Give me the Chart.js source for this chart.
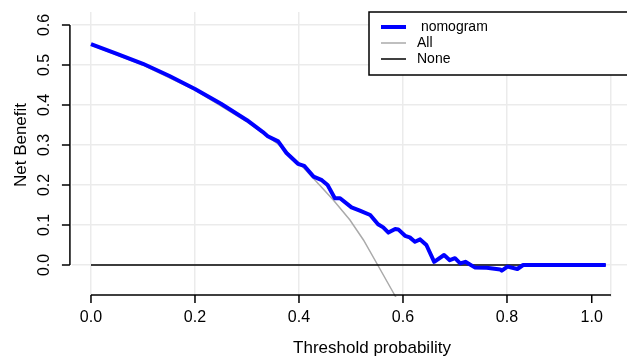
<!DOCTYPE html>
<html>
<head>
<meta charset="utf-8">
<script src="https://cdn.jsdelivr.net/npm/chart.js@4.4.0/dist/chart.umd.min.js"></script>
<style>
    html, body { margin: 0; padding: 0; background: #fff; }
    canvas { display: block; }
</style>
</head>
<body>
<canvas id="dcaChart" width="627" height="358"></canvas>
<script>
// decision curve, values
const nomogramX = [0.00, 0.05, 0.10, 0.15, 0.20, 0.25, 0.30, 0.33, 0.34, 0.36, 0.376, 0.398, 0.41, 0.428, 0.444, 0.455,
    0.469, 0.479, 0.501, 0.517, 0.537, 0.552, 0.562, 0.572, 0.585, 0.591, 0.604, 0.613, 0.623, 0.633, 0.645,
    0.660, 0.679, 0.690, 0.700, 0.710, 0.720, 0.738, 0.761, 0.787, 0.790, 0.801, 0.820, 0.831, 0.99];
const nomogramY = [0.552, 0.528, 0.503, 0.473, 0.440, 0.403, 0.362, 0.333, 0.322, 0.309, 0.280, 0.253, 0.248, 0.221, 0.212, 0.200,
    0.167, 0.167, 0.144, 0.136, 0.125, 0.102, 0.094, 0.081, 0.090, 0.089, 0.073, 0.069, 0.058, 0.064, 0.050,
    0.008, 0.025, 0.012, 0.017, 0.004, 0.008, -0.006, -0.007, -0.011, -0.014, -0.004, -0.010, 0.000, 0.000];

const allX = [0.00, 0.10, 0.20, 0.30, 0.36, 0.40, 0.4275, 0.466, 0.498, 0.524, 0.5525, 0.585, 0.595];
const allY = [0.550, 0.500, 0.437, 0.358, 0.302, 0.255, 0.217, 0.1625, 0.1125, 0.0625, -0.0025, -0.0775, -0.100];

const noneX = [0.00, 0.99];
const noneY = [0.00, 0.00];

const xGrid = [0, 0.2, 0.4, 0.6, 0.8, 1.0];
const yGrid = [0, 0.1, 0.2, 0.3, 0.4, 0.5, 0.6];
const xTickValues = [0, 0.2, 0.4, 0.6, 0.8, 0.963];
const xTickLabels = ['0.0', '0.2', '0.4', '0.6', '0.8', '1.0'];
const yTickValues = [0, 0.1, 0.2, 0.3, 0.4, 0.5, 0.6];
const yTickLabels = ['0.0', '0.1', '0.2', '0.3', '0.4', '0.5', '0.6'];

const legendLabels = [' nomogram', 'All', 'None'];
const lineColors = ['#0000ff', '#aaaaaa', '#000000'];

function toPoints(xs, ys) {
    return xs.map((x, i) => ({ x: x, y: ys[i] }));
}

// R style axes + legend box, drawn with the chart's own scales
const baseAxes = {
    id: 'baseAxes',
    afterDraw(chart) {
        const ctx = chart.ctx;
        const xs = chart.scales.x;
        const ys = chart.scales.y;
        ctx.save();
        ctx.strokeStyle = '#000';
        ctx.fillStyle = '#000';
        ctx.lineWidth = 1.5;
        ctx.font = '16px "Liberation Sans", Arial, sans-serif';

        // x axis
        const axY = ys.getPixelForValue(-0.075);
        ctx.beginPath();
        ctx.moveTo(xs.getPixelForValue(0), axY);
        ctx.lineTo(xs.getPixelForValue(1.0), axY);
        xTickValues.forEach(v => {
            const px = xs.getPixelForValue(v);
            ctx.moveTo(px, axY);
            ctx.lineTo(px, axY + 8);
        });
        ctx.stroke();
        ctx.textAlign = 'center';
        ctx.textBaseline = 'middle';
        xTickValues.forEach((v, i) => {
            ctx.fillText(xTickLabels[i], xs.getPixelForValue(v), 318);
        });

        // y axis
        const axX = xs.getPixelForValue(-0.0405);
        ctx.beginPath();
        ctx.moveTo(axX, ys.getPixelForValue(0));
        ctx.lineTo(axX, ys.getPixelForValue(0.6));
        yTickValues.forEach(v => {
            const py = ys.getPixelForValue(v);
            ctx.moveTo(axX, py);
            ctx.lineTo(axX - 8, py);
        });
        ctx.stroke();
        yTickValues.forEach((v, i) => {
            ctx.save();
            ctx.translate(45, ys.getPixelForValue(v));
            ctx.rotate(-Math.PI / 2);
            ctx.fillText(yTickLabels[i], 0, 0);
            ctx.restore();
        });

        // titles
        ctx.font = '17px "Liberation Sans", Arial, sans-serif';
        ctx.fillText('Threshold probability', 372, 348);
        ctx.save();
        ctx.translate(21, ys.getPixelForValue(0.3));
        ctx.rotate(-Math.PI / 2);
        ctx.fillText('Net Benefit', 0, 0);
        ctx.restore();

        // legend
        ctx.fillStyle = '#fff';
        ctx.fillRect(369, 12, 270, 63);
        ctx.strokeStyle = '#000';
        ctx.lineWidth = 1.5;
        ctx.strokeRect(369, 12, 270, 63);
        ctx.font = '14px "Liberation Sans", Arial, sans-serif';
        ctx.textAlign = 'left';
        const rowY = [27, 43, 59];
        const widths = [4, 1.5, 1.5];
        legendLabels.forEach((label, i) => {
            ctx.strokeStyle = lineColors[i];
            ctx.lineWidth = widths[i];
            ctx.beginPath();
            ctx.moveTo(381, rowY[i]);
            ctx.lineTo(406, rowY[i]);
            ctx.stroke();
            ctx.fillStyle = '#000';
            ctx.fillText(label, 417, rowY[i]);
        });
        ctx.restore();
    }
};

const ctxDca = document.getElementById('dcaChart').getContext('2d');

const dcaChart = new Chart(ctxDca, {
    type: 'line',
    data: {
        datasets: [{
            label: 'nomogram',
            data: toPoints(nomogramX, nomogramY),
            borderColor: lineColors[0],
            borderWidth: 4,
            borderJoinStyle: 'round',
            pointRadius: 0,
            fill: false
        }, {
            label: 'None',
            data: toPoints(noneX, noneY),
            borderColor: lineColors[2],
            borderWidth: 1.5,
            pointRadius: 0,
            fill: false
        }, {
            label: 'All',
            data: toPoints(allX, allY),
            borderColor: lineColors[1],
            borderWidth: 1.5,
            pointRadius: 0,
            fill: false
        }]
    },
    options: {
        responsive: false,
        animation: false,
        devicePixelRatio: 1,
        layout: {
            padding: { left: 72, top: 12, right: 0, bottom: 61 }
        },
        plugins: {
            legend: { display: false },
            tooltip: { enabled: false }
        },
        scales: {
            x: {
                type: 'linear',
                min: -0.0365,
                max: 1.0308,
                afterBuildTicks: scale => { scale.ticks = xGrid.map(v => ({ value: v })); },
                grid: { color: '#ebebeb', lineWidth: 1.5, drawTicks: false },
                border: { display: false },
                ticks: { display: false }
            },
            y: {
                type: 'linear',
                min: -0.08,
                max: 0.6325,
                afterBuildTicks: scale => { scale.ticks = yGrid.map(v => ({ value: v })); },
                grid: { color: '#ebebeb', lineWidth: 1.5, drawTicks: false },
                border: { display: false },
                ticks: { display: false }
            }
        }
    },
    plugins: [baseAxes]
});
</script>
</body>
</html>
